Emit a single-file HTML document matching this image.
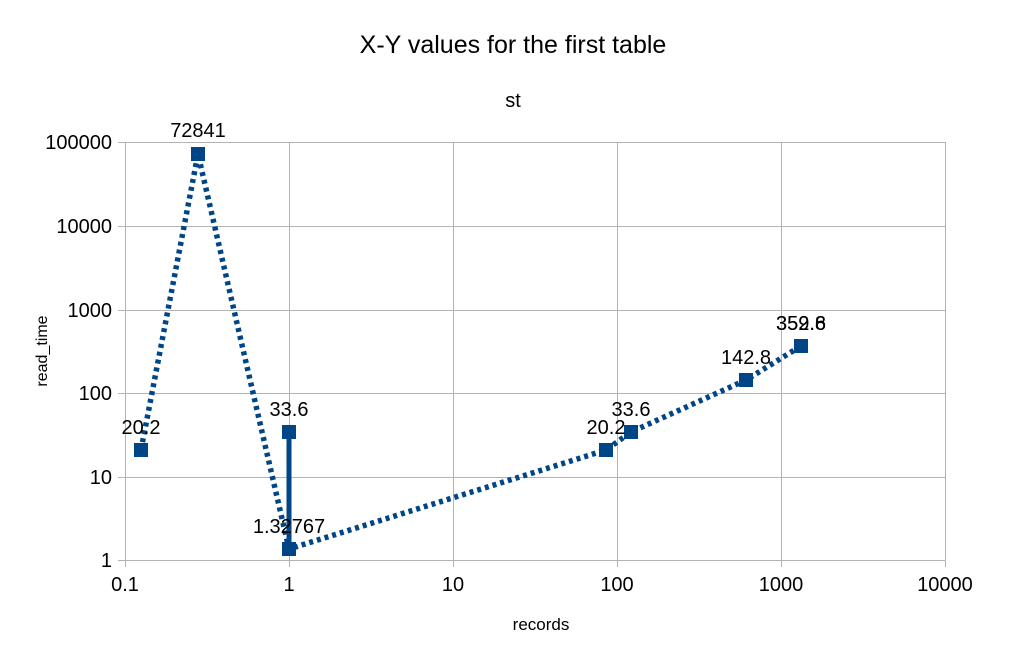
<!DOCTYPE html>
<html><head><style>body{margin:0;background:#fff}</style></head><body>
<svg width="1026" height="664" xmlns="http://www.w3.org/2000/svg" font-family="Liberation Sans, sans-serif">
<rect width="1026" height="664" fill="#fff"/>
<text x="513" y="53" font-size="25" text-anchor="middle">X-Y values for the first table</text>
<text x="513" y="107" font-size="20" text-anchor="middle">st</text>
<g stroke="#b3b3b3" stroke-width="1">
<line x1="125" y1="142.5" x2="945" y2="142.5"/><line x1="125" y1="226.5" x2="945" y2="226.5"/>
<line x1="125" y1="310.5" x2="945" y2="310.5"/><line x1="125" y1="393.5" x2="945" y2="393.5"/>
<line x1="125" y1="477.5" x2="945" y2="477.5"/><line x1="118" y1="560.5" x2="945" y2="560.5"/>
<line x1="125.5" y1="142" x2="125.5" y2="567"/><line x1="289.5" y1="142" x2="289.5" y2="567"/>
<line x1="453.5" y1="142" x2="453.5" y2="567"/><line x1="617.5" y1="142" x2="617.5" y2="567"/>
<line x1="781.5" y1="142" x2="781.5" y2="567"/><line x1="945.5" y1="142" x2="945.5" y2="567"/>
<line x1="118" y1="142.5" x2="125" y2="142.5"/><line x1="118" y1="226.5" x2="125" y2="226.5"/><line x1="118" y1="310.5" x2="125" y2="310.5"/><line x1="118" y1="393.5" x2="125" y2="393.5"/><line x1="118" y1="477.5" x2="125" y2="477.5"/>
</g>
<g font-size="20" text-anchor="end">
<text x="112" y="149">100000</text><text x="112" y="233">10000</text><text x="112" y="317">1000</text>
<text x="112" y="400">100</text><text x="112" y="484">10</text><text x="112" y="567">1</text>
</g>
<g font-size="20" text-anchor="middle">
<text x="125" y="591">0.1</text><text x="289" y="591">1</text><text x="453" y="591">10</text>
<text x="617" y="591">100</text><text x="781" y="591">1000</text><text x="945" y="591">10000</text>
</g>
<text x="541" y="630" font-size="17" text-anchor="middle">records</text>
<text x="47" y="351" font-size="16" text-anchor="middle" transform="rotate(-90 47 351)">read_time</text>
<polyline points="141,450 198,154 289,549 606,450 631,432 746,380 801,346" fill="none" stroke="#004586" stroke-width="5.5" stroke-dasharray="4,4"/>
<line x1="289" y1="432" x2="289" y2="549" stroke="#004586" stroke-width="5"/>
<g fill="#004586">
<rect x="134" y="443" width="14" height="14"/><rect x="191" y="147" width="14" height="14"/>
<rect x="282" y="542" width="14" height="14"/><rect x="282" y="425" width="14" height="14"/>
<rect x="599" y="443" width="14" height="14"/><rect x="624" y="425" width="14" height="14"/>
<rect x="739" y="373" width="14" height="14"/><rect x="794" y="339" width="14" height="14"/>
</g>
<g font-size="20" text-anchor="middle">
<text x="141" y="434">20.2</text><text x="198" y="137">72841</text><text x="289" y="416">33.6</text>
<text x="289" y="533">1.32767</text><text x="606" y="434">20.2</text><text x="631" y="416">33.6</text>
<text x="746" y="364">142.8</text><text x="801" y="330">359.6</text><text x="801" y="330">352.8</text>
</g>
</svg>
</body></html>
